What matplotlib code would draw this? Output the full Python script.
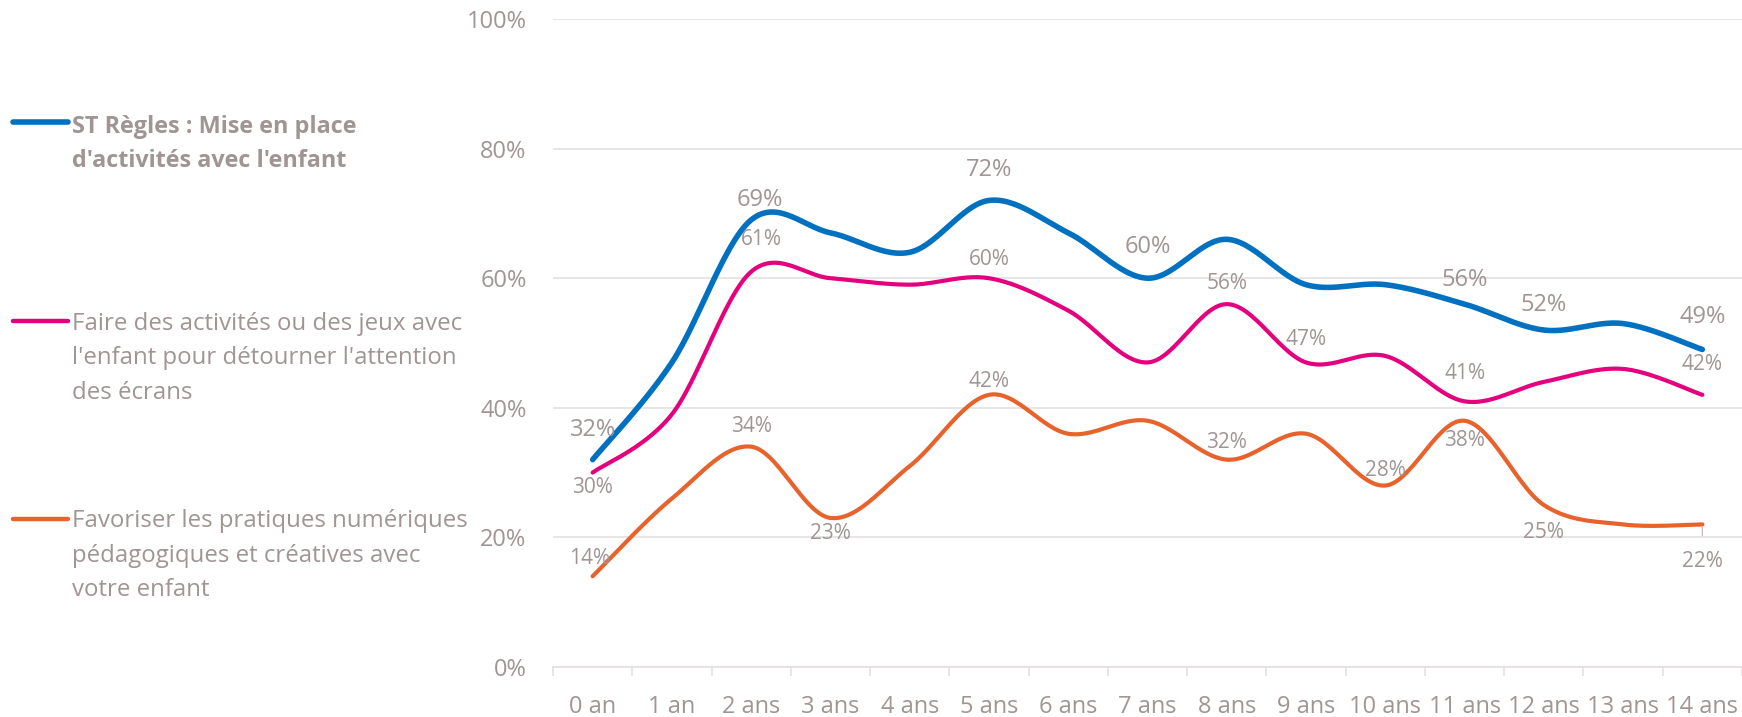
import matplotlib
matplotlib.use("Agg")
import matplotlib.pyplot as plt
from matplotlib.lines import Line2D
import numpy as np

plt.rcParams['font.family'] = ['Open Sans', 'DejaVu Sans']

ages = ["0 an", "1 an", "2 ans", "3 ans", "4 ans", "5 ans", "6 ans", "7 ans",
        "8 ans", "9 ans", "10 ans", "11 ans", "12 ans", "13 ans", "14 ans"]

regles = [32, 47, 69, 67, 64, 72, 67, 60, 66, 59, 59, 56, 52, 53, 49]
jeux = [30, 39, 61, 60, 59, 60, 55, 47, 56, 47, 48, 41, 44, 46, 42]
numerique = [14, 26, 34, 23, 31, 42, 36, 38, 32, 36, 28, 38, 25, 22, 22]

# étiquettes affichées : indice -> décalage (dx, dy) en pixels
lab_regles = {0: (0, 30), 2: (9, 20), 5: (0, 30), 7: (0, 31), 11: (0, 24), 12: (0, 25), 14: (0, 32)}
lab_jeux = {0: (0, -15), 2: (10, 32), 5: (0, 19), 8: (0, 21), 9: (0, 23), 11: (0, 28), 14: (0, 30)}
lab_num = {0: (-3, 18), 2: (0, 20), 3: (0, -16), 5: (0, 13), 8: (0, 17), 10: (0, 15),
           11: (0, -20), 12: (0, -27), 14: (0, -37)}

txt = '#a09494'
grid = '#e4e0e0'


def lisse(y, n=30):
    # courbe type Catmull-Rom passant par chaque point
    y = np.asarray(y, float)
    x = np.arange(len(y), dtype=float)
    xs, ys = [], []
    for i in range(len(y) - 1):
        p0 = i - 1 if i > 0 else i
        p3 = i + 2 if i + 2 < len(y) else i + 1
        tx1 = (x[i + 1] - x[p0]) / 6
        ty1 = (y[i + 1] - y[p0]) / 6
        tx2 = (x[p3] - x[i]) / 6
        ty2 = (y[p3] - y[i]) / 6
        t = np.linspace(0, 1, n)
        bx = [x[i], x[i] + tx1, x[i + 1] - tx2, x[i + 1]]
        by = [y[i], y[i] + ty1, y[i + 1] - ty2, y[i + 1]]
        b = [(1 - t) ** 3, 3 * (1 - t) ** 2 * t, 3 * (1 - t) * t ** 2, t ** 3]
        xs.append(sum(c * v for c, v in zip(b, bx)))
        ys.append(sum(c * v for c, v in zip(b, by)))
    return np.concatenate(xs), np.concatenate(ys)


fig = plt.figure(figsize=(17.42, 7.17), dpi=100)
ax = fig.add_axes([553 / 1742, 50 / 717, 1189 / 1742, 648 / 717])

series = [
    (numerique, '#e8622c', 3.0, lab_num, 15),
    (jeux, '#e5007d', 3.0, lab_jeux, 15),
    (regles, '#0070c0', 4.0, lab_regles, 17),
]
for vals, col, lw, labs, fs in series:
    xs, ys = lisse(vals)
    ax.plot(xs, ys, color=col, lw=lw, solid_capstyle='round', zorder=3)
    for i, (dx, dy) in labs.items():
        ax.annotate(f"{vals[i]}%", (i, vals[i]), xytext=(dx * 0.72, dy * 0.72),
                    textcoords='offset points', ha='center', va='center',
                    fontsize=fs, color=txt, zorder=4)

# trait de rappel pour la dernière étiquette orange
ax.annotate("", (14, numerique[14]), xytext=(0, -14 * 0.72), textcoords='offset points',
            arrowprops=dict(arrowstyle='-', color='#c8c0c0', lw=1))

ax.set_xlim(-0.5, 14.5)
ax.set_ylim(0, 100)
ax.set_yticks(np.arange(0, 101, 20))
ax.set_yticklabels([f"{v}%" for v in range(0, 101, 20)])
ax.set_xticks(range(len(ages)))
ax.set_xticklabels(ages)
ax.set_xticks(np.arange(-0.5, 15, 1), minor=True)
ax.tick_params(axis='x', which='major', length=0, pad=20, labelsize=17, labelcolor=txt)
ax.tick_params(axis='x', which='minor', length=6.5, width=1.2, color=grid)
ax.tick_params(axis='y', length=0, pad=19, labelsize=17, labelcolor=txt)
ax.yaxis.grid(True, color=grid, lw=1.2)
ax.set_axisbelow(True)
for s in ['top', 'right', 'left']:
    ax.spines[s].set_visible(False)
ax.spines['bottom'].set_color(grid)
ax.spines['bottom'].set_linewidth(1.2)

# légende à gauche
H = 717
entries = [
    ('#0070c0', 4.0, 122, [133, 167], ["ST Règles : Mise en place", "d'activités avec l'enfant"], 'bold', 16.8),
    ('#e5007d', 3.2, 321, [330, 364.5, 399],
     ["Faire des activités ou des jeux avec", "l'enfant pour détourner l'attention", "des écrans"], 'normal', 17.3),
    ('#e8622c', 3.2, 519, [527, 561.5, 596],
     ["Favoriser les pratiques numériques", "pédagogiques et créatives avec", "votre enfant"], 'normal', 17.3),
]
for col, lw, ly, bases, lines, wt, fs in entries:
    fig.add_artist(Line2D([13 / 1742, 68 / 1742], [1 - ly / H, 1 - ly / H], color=col, lw=lw,
                          solid_capstyle='round'))
    for b, line in zip(bases, lines):
        fig.text(72 / 1742, 1 - b / H, line, fontsize=fs, color=txt, fontweight=wt, va='baseline')

fig.savefig("out.png", dpi=100)
